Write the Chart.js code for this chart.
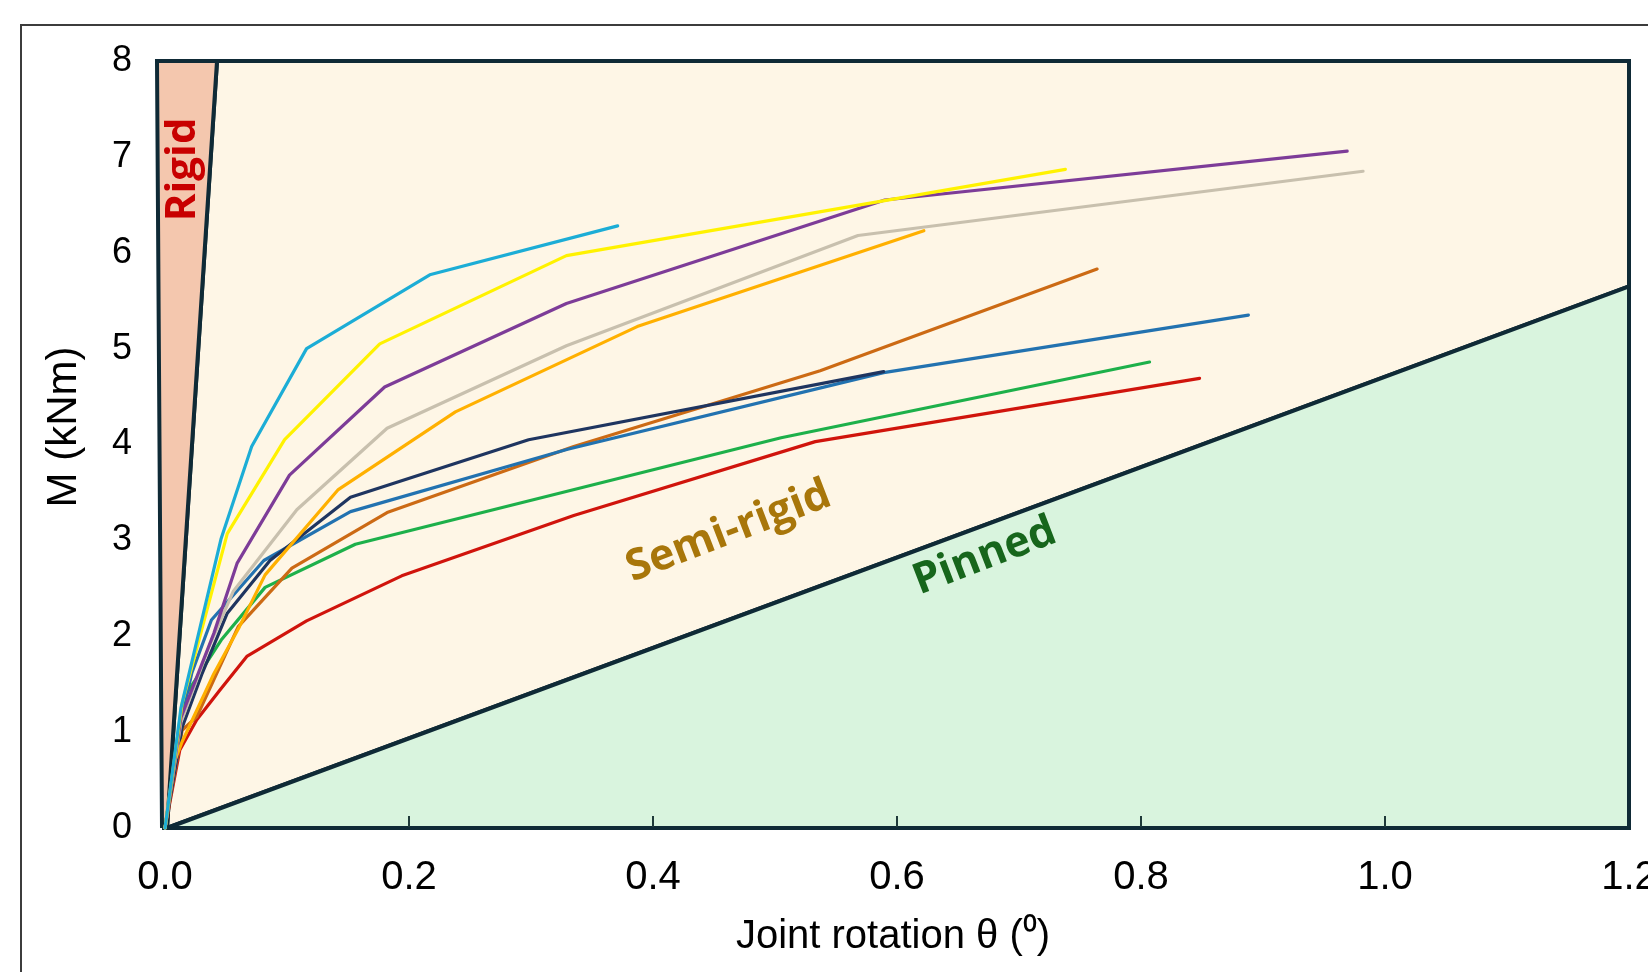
<!DOCTYPE html>
<html>
<head>
<meta charset="utf-8">
<script src="https://cdn.jsdelivr.net/npm/chart.js@4.4.1/dist/chart.umd.min.js"></script>
<style>
  html, body { margin: 0; padding: 0; background: #ffffff; }
  canvas { display: block; }
</style>
</head>
<body>
<canvas id="chart" width="1648" height="972"></canvas>
<script>
// ---------- axis ticks ----------
const xTickValues = [0, 0.2, 0.4, 0.6, 0.8, 1.0, 1.2];
const xTickLabels = ['0.0', '0.2', '0.4', '0.6', '0.8', '1.0', '1.2'];
const yTickValues = [0, 1, 2, 3, 4, 5, 6, 7, 8];
const yTickLabels = ['0', '1', '2', '3', '4', '5', '6', '7', '8'];
const xMin = -0.0066;
const xMax = 1.2;
const yMin = 0;
const yMax = 8;

// ---------- classification zones (theta, M) ----------
const rigidZone = [[-0.0025, 0], [-0.0066, 8], [0.0426, 8], [0.0016, 0]];
const semiRigidZone = [[0.0016, 0], [0.0426, 8], [1.2, 8], [1.2, 5.65]];
const pinnedZone = [[0.0016, 0], [1.2, 5.65], [1.2, 0]];

// ---------- moment-rotation curves (theta in deg, M in kNm) ----------
const curveCyan = [[0, 0], [0.013, 1.25], [0.046, 3.02], [0.071, 3.98], [0.116, 5.0], [0.217, 5.77], [0.371, 6.28]];
const curveYellow = [[0, 0], [0.014, 1.3], [0.051, 3.07], [0.098, 4.05], [0.176, 5.05], [0.329, 5.97], [0.738, 6.87]];
const curvePurple = [[0, 0], [0.013, 1.15], [0.040, 2.03], [0.059, 2.76], [0.102, 3.68], [0.180, 4.60], [0.329, 5.47], [0.590, 6.55], [0.969, 7.06]];
const curveGrey = [[0, 0], [0.013, 1.1], [0.036, 1.89], [0.056, 2.47], [0.108, 3.32], [0.182, 4.17], [0.329, 5.03], [0.568, 6.18], [0.982, 6.85]];
const curveAmber = [[0, 0], [0.008, 0.7], [0.014, 0.9], [0.040, 1.61], [0.061, 2.10], [0.082, 2.64], [0.142, 3.53], [0.238, 4.34], [0.387, 5.23], [0.622, 6.23]];
const curveNavy = [[0, 0], [0.014, 1.05], [0.030, 1.6], [0.051, 2.24], [0.086, 2.79], [0.152, 3.45], [0.298, 4.05], [0.589, 4.76]];
const curveBlue = [[0, 0], [0.015, 1.23], [0.022, 1.62], [0.038, 2.17], [0.081, 2.79], [0.152, 3.30], [0.33, 3.95], [0.589, 4.75], [0.888, 5.35]];
const curveBrown = [[0, 0], [0.014, 1.02], [0.026, 1.16], [0.060, 2.10], [0.104, 2.71], [0.182, 3.29], [0.335, 3.98], [0.537, 4.77], [0.764, 5.83]];
const curveGreen = [[0, 0], [0.016, 1.37], [0.046, 1.96], [0.082, 2.51], [0.156, 2.96], [0.505, 4.07], [0.807, 4.86]];
const curveRed = [[0, 0], [0.012, 0.81], [0.026, 1.13], [0.045, 1.44], [0.067, 1.79], [0.116, 2.16], [0.194, 2.63], [0.335, 3.26], [0.533, 4.03], [0.848, 4.69]];

const curves = [
  { data: curveRed, color: '#D0140C' },
  { data: curveGreen, color: '#1DB04A' },
  { data: curveBrown, color: '#CC6A14' },
  { data: curveBlue, color: '#2272B0' },
  { data: curveNavy, color: '#1F3560' },
  { data: curveAmber, color: '#FFB000' },
  { data: curveGrey, color: '#C8C0AE' },
  { data: curvePurple, color: '#7D3C98' },
  { data: curveYellow, color: '#FFF200' },
  { data: curveCyan, color: '#1CADD6' }
];

const toXY = arr => arr.map(([x, y]) => ({ x, y }));
const closed = arr => toXY(arr.concat([arr[0]]));

const edgeColor = '#0F2A36';

function zone(points, fillColor, order) {
  return {
    data: closed(points),
    borderColor: edgeColor,
    backgroundColor: fillColor,
    borderWidth: 4,
    borderJoinStyle: 'miter',
    fill: 'shape',
    pointRadius: 0,
    tension: 0,
    clip: false,
    order: order
  };
}

const datasets = [
  zone(semiRigidZone, '#FEF6E6', 100),
  zone(pinnedZone, '#D9F4DE', 90),
  zone(rigidZone, '#F4C7AE', 80)
];
curves.forEach((c, i) => {
  datasets.push({
    data: toXY(c.data),
    borderColor: c.color,
    backgroundColor: c.color,
    borderWidth: 3.2,
    borderJoinStyle: 'round',
    borderCapStyle: 'round',
    fill: false,
    pointRadius: 0,
    tension: 0,
    clip: false,
    order: 50 - i
  });
});

Chart.defaults.font.family = "'Liberation Sans', Arial, sans-serif";
Chart.defaults.color = '#000000';

const decor = {
  id: 'decor',
  beforeDraw(chart) {
    const ctx = chart.ctx;
    ctx.save();
    ctx.fillStyle = '#ffffff';
    ctx.fillRect(0, 0, chart.width, chart.height);
    ctx.strokeStyle = '#3c3c3c';
    ctx.lineWidth = 2;
    ctx.strokeRect(21, 25, chart.width + 40, chart.height + 40);
    ctx.restore();
  },
  afterDatasetsDraw(chart) {
    const ctx = chart.ctx;
    const xs = chart.scales.x;
    const ys = chart.scales.y;
    const bottom = chart.chartArea.bottom;
    ctx.save();
    // inner tick marks
    ctx.strokeStyle = '#1F3A3A';
    ctx.lineWidth = 2;
    xs.ticks.forEach((t, i) => {
      if (i === 0 || i === xs.ticks.length - 1) return;
      const px = Math.round(xs.getPixelForValue(t.value));
      ctx.beginPath();
      ctx.moveTo(px, bottom - 1);
      ctx.lineTo(px, bottom - 12);
      ctx.stroke();
    });
    // zone labels
    const labels = [
      { text: 'Rigid', x: 0.0148, y: 6.87, angle: -90, size: 42, color: '#C80000' },
      { text: 'Semi-rigid', x: 0.462, y: 3.09, angle: -21, size: 43, color: '#A8760A' },
      { text: 'Pinned', x: 0.672, y: 2.83, angle: -21, size: 43, color: '#17661C' }
    ];
    labels.forEach(l => {
      ctx.save();
      ctx.translate(xs.getPixelForValue(l.x), ys.getPixelForValue(l.y));
      ctx.rotate(l.angle * Math.PI / 180);
      ctx.font = "bold " + l.size + "px 'Open Sans', 'Noto Sans', sans-serif";
      ctx.fillStyle = l.color;
      ctx.textAlign = 'center';
      ctx.textBaseline = 'middle';
      ctx.fillText(l.text, 0, 0);
      ctx.restore();
    });
    // y axis title
    ctx.save();
    ctx.translate(64, 427);
    ctx.rotate(-Math.PI / 2);
    ctx.font = "42px 'Liberation Sans', Arial, sans-serif";
    ctx.fillStyle = '#000000';
    ctx.textAlign = 'center';
    ctx.textBaseline = 'middle';
    ctx.fillText('M (kNm)', 0, 0);
    ctx.restore();
    ctx.restore();
  }
};

new Chart(document.getElementById('chart'), {
  type: 'line',
  data: { datasets },
  plugins: [decor],
  options: {
    responsive: false,
    animation: false,
    devicePixelRatio: 1,
    layout: { padding: { top: 61, right: 19, left: 0, bottom: 0 } },
    plugins: { legend: { display: false }, tooltip: { enabled: false } },
    scales: {
      x: {
        type: 'linear',
        min: xMin,
        max: xMax,
        afterBuildTicks: s => { s.ticks = xTickValues.map(v => ({ value: v })); },
        afterFit: s => { s.height = 144; s.paddingLeft = 0; s.paddingRight = 0; },
        ticks: {
          callback: (v, i) => xTickLabels[i],
          font: { size: 40 },
          color: '#000000',
          padding: 26,
          maxRotation: 0,
          autoSkip: false
        },
        grid: { display: false, drawTicks: false },
        border: { display: false },
        title: {
          display: true,
          text: 'Joint rotation θ (⁰)',
          font: { size: 40 },
          color: '#000000',
          padding: { top: 0, bottom: 11 }
        }
      },
      y: {
        type: 'linear',
        min: yMin,
        max: yMax,
        afterBuildTicks: s => { s.ticks = yTickValues.map(v => ({ value: v })); },
        afterFit: s => { s.width = 157; s.paddingTop = 0; s.paddingBottom = 0; },
        ticks: {
          callback: (v, i) => yTickLabels[i],
          font: { size: 36 },
          color: '#000000',
          padding: 25
        },
        grid: { display: false, drawTicks: false },
        border: { display: false }
      }
    }
  }
});
</script>
</body>
</html>
